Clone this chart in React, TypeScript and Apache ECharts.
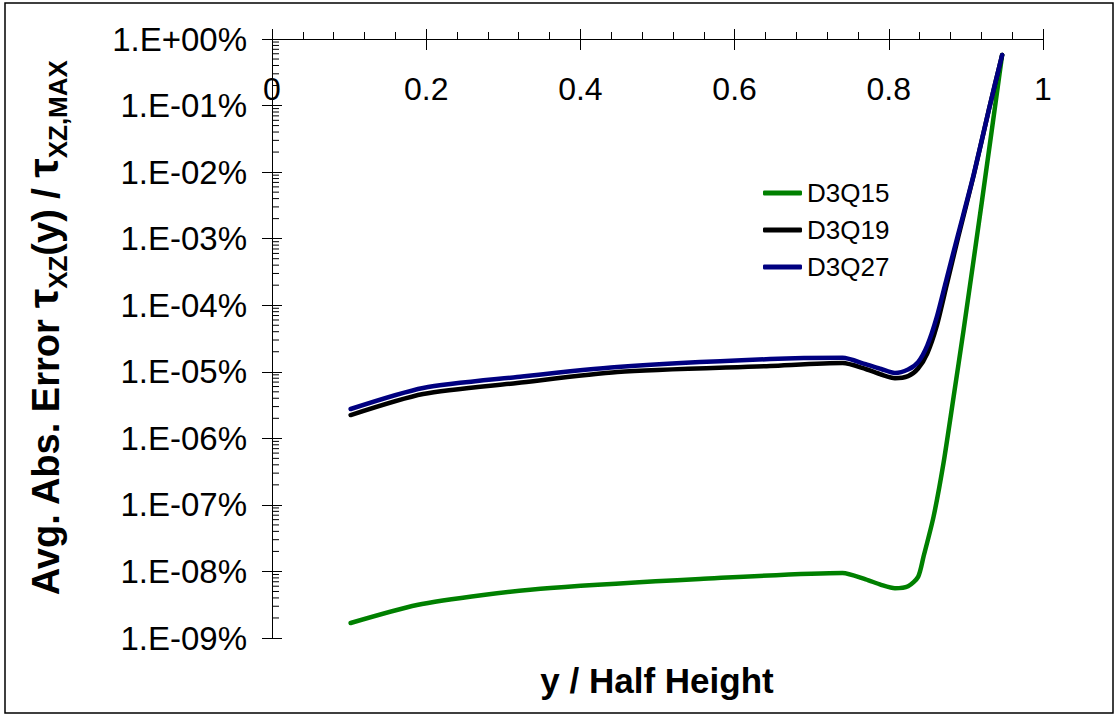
import React, { useEffect, useRef } from 'react';
import * as echarts from 'echarts';

const FONT = '"Liberation Sans", Arial, Helvetica, sans-serif';

// Series names
const seriesNames = ['D3Q15', 'D3Q19', 'D3Q27'];
const seriesColors = ['#008000', '#000000', '#000080'];

// D3Q15 (green): y / Half Height vs Avg. Abs. Error [%]
const xD3Q15 = [0.102, 0.188, 0.274, 0.361, 0.555, 0.74, 0.77, 0.79, 0.808, 0.825, 0.838, 0.845, 0.858, 0.871, 0.884, 0.897, 0.921, 0.947];
const yD3Q15 = [1.68e-9, 3.13e-9, 4.43e-9, 5.65e-9, 7.7e-9, 9.5e-9, 7.6e-9, 6.3e-9, 5.6e-9, 6.0e-9, 8.3e-9, 1.66e-8, 6.6e-8, 4.27e-7, 4.17e-6, 4.25e-5, 3.8e-3, 0.575];

// D3Q19 (black)
const xD3Q19 = [0.102, 0.196, 0.318, 0.448, 0.646, 0.74, 0.77, 0.79, 0.808, 0.825, 0.838, 0.85, 0.862, 0.875, 0.89, 0.91, 0.93, 0.947];
const yD3Q19 = [2.24e-6, 4.64e-6, 6.79e-6, 9.93e-6, 1.22e-5, 1.35e-5, 1.1e-5, 9.1e-6, 8.0e-6, 8.6e-6, 1.12e-5, 1.9e-5, 4.8e-5, 2.0e-4, 1.05e-3, 8.8e-3, 8.9e-2, 0.575];

// D3Q27 (navy)
const xD3Q27 = [0.102, 0.196, 0.318, 0.448, 0.646, 0.74, 0.77, 0.79, 0.808, 0.825, 0.838, 0.85, 0.862, 0.875, 0.89, 0.91, 0.93, 0.947];
const yD3Q27 = [2.76e-6, 5.71e-6, 8.35e-6, 1.18e-5, 1.55e-5, 1.62e-5, 1.3e-5, 1.1e-5, 9.6e-6, 1.08e-5, 1.4e-5, 2.5e-5, 6.5e-5, 2.5e-4, 1.17e-3, 9.1e-3, 8.9e-2, 0.575];

// Axis ranges / ticks
const xMin = 0;
const xMax = 1;
const xInterval = 0.2;
const yDecadeExponents = [-9, -8, -7, -6, -5, -4, -3, -2, -1, 0];
const minorMantissas = [2, 3, 4, 5, 6, 7, 8, 9];

const xTitle = 'y / Half Height';

export default function App() {
  const ref = useRef<HTMLDivElement>(null);

  useEffect(() => {
    if (!ref.current) return;
    const chart = echarts.init(ref.current, null, { renderer: 'svg' });

    const pair = (xs: number[], ys: number[]) => xs.map((x, i) => [x, ys[i]]);
    const minorTicks: number[][] = [];
    yDecadeExponents.slice(0, -1).forEach((e) => {
      minorMantissas.forEach((m) => minorTicks.push([0, m * Math.pow(10, e)]));
    });
    const fmtY = (v: number) => {
      const e = Math.round(Math.log10(v));
      const s = e < 0 ? '-' : '+';
      return '1.E' + s + String(Math.abs(e)).padStart(2, '0') + '%';
    };
    const yMin = Math.pow(10, yDecadeExponents[0]);
    const yMax = Math.pow(10, yDecadeExponents[yDecadeExponents.length - 1]);

    const xs = [xD3Q15, xD3Q19, xD3Q27];
    const ys = [yD3Q15, yD3Q19, yD3Q27];

    chart.setOption({
      animation: false,
      backgroundColor: '#ffffff',
      grid: { left: 272, right: 75, top: 39, bottom: 79, outerBoundsMode: 'none', containLabel: false },
      legend: {
        data: seriesNames.map((n) => ({ name: n, icon: 'roundRect' })),
        orient: 'vertical',
        left: 758,
        top: 175,
        itemWidth: 39,
        itemHeight: 5,
        itemGap: 11,
        textStyle: { fontSize: 26, color: '#000', fontFamily: FONT },
      },
      xAxis: [
        {
          type: 'value',
          position: 'top',
          min: xMin,
          max: xMax,
          interval: xInterval,
          axisLine: { show: true, onZero: false, lineStyle: { color: '#000', width: 1 } },
          axisTick: { show: true, inside: false, length: 10, lineStyle: { color: '#000', width: 1 } },
          minorTick: { show: true, splitNumber: 5, length: 7, lineStyle: { color: '#000', width: 1 } },
          splitLine: { show: false },
          minorSplitLine: { show: false },
          axisLabel: {
            show: true,
            inside: true,
            margin: 34,
            color: '#000',
            fontSize: 32,
            fontFamily: FONT,
            showMinLabel: true,
            showMaxLabel: true,
          },
        },
        {
          type: 'value',
          position: 'top',
          min: xMin,
          max: xMax,
          interval: xInterval,
          axisLine: { show: false, onZero: false },
          axisTick: { show: true, inside: true, length: 11, lineStyle: { color: '#000', width: 1 } },
          axisLabel: { show: false },
          splitLine: { show: false },
        },
      ],
      yAxis: [
        {
          type: 'log',
          logBase: 10,
          position: 'left',
          min: yMin,
          max: yMax,
          splitNumber: 9,
          axisLine: { show: true, onZero: false, lineStyle: { color: '#000', width: 1 } },
          axisTick: { show: true, inside: false, length: 10, lineStyle: { color: '#000', width: 1 } },
          splitLine: { show: false },
          axisLabel: {
            show: true,
            margin: 25,
            color: '#000',
            fontSize: 33,
            fontFamily: FONT,
            formatter: fmtY,
            showMinLabel: true,
            showMaxLabel: true,
          },
        },
        {
          type: 'log',
          logBase: 10,
          position: 'left',
          min: yMin,
          max: yMax,
          splitNumber: 9,
          axisLine: { show: false, onZero: false },
          axisTick: { show: true, inside: true, length: 10, lineStyle: { color: '#000', width: 1 } },
          axisLabel: { show: false },
          splitLine: { show: false },
        },
      ],
      series: [
        ...seriesNames.map((name, i) => ({
          name,
          type: 'line',
          xAxisIndex: 0,
          yAxisIndex: 0,
          data: pair(xs[i], ys[i]),
          symbol: 'none',
          showSymbol: false,
          smooth: 0.25,
          color: seriesColors[i],
          itemStyle: { color: seriesColors[i] },
          lineStyle: { color: seriesColors[i], width: 4.5, cap: 'round', join: 'round' },
          z: 3 + i,
        })),
        {
          name: 'minorTicks',
          type: 'custom',
          xAxisIndex: 0,
          yAxisIndex: 0,
          silent: true,
          clip: false,
          data: minorTicks,
          renderItem: (_p: any, api: any) => {
            const pt = api.coord([api.value(0), api.value(1)]);
            return {
              type: 'line',
              shape: { x1: pt[0], y1: pt[1], x2: pt[0] + 7, y2: pt[1] },
              style: { stroke: '#000', lineWidth: 1 },
            };
          },
          z: 2,
        },
      ],
      graphic: [
        {
          type: 'rect',
          shape: { x: 5, y: 3, width: 1108, height: 710 },
          style: { fill: 'none', stroke: '#000', lineWidth: 1.5 },
          silent: true,
          z: 0,
        },
        {
          type: 'text',
          x: 657,
          y: 680,
          style: {
            text: xTitle,
            fontSize: 35,
            fontWeight: 'bold',
            fontFamily: FONT,
            fill: '#000',
            align: 'center',
            verticalAlign: 'middle',
          },
        },
        {
          type: 'text',
          x: 46,
          y: 328,
          rotation: Math.PI / 2,
          style: {
            text: '{n|Avg. Abs. Error }{t|τ}{s|XZ}{n|(y) / }{t|τ}{s|XZ,MAX}',
            fontFamily: FONT,
            fill: '#000',
            align: 'center',
            verticalAlign: 'middle',
            rich: {
              n: { fontSize: 38, fontWeight: 'bold', fontFamily: FONT, fill: '#000', verticalAlign: 'bottom', padding: [0, 0, 6, 0] },
              t: { fontSize: 43, fontWeight: 'bold', fontFamily: FONT, fill: '#000', verticalAlign: 'bottom', padding: [0, 0, 6, 0] },
              s: { fontSize: 26, fontWeight: 'bold', fontFamily: FONT, fill: '#000', verticalAlign: 'bottom' },
            },
          },
        },
      ],
    });

    return () => chart.dispose();
  }, []);

  return (
    <div
      ref={ref}
      style={{ position: 'absolute', left: 0, top: 0, width: 1118, height: 717, background: '#fff' }}
    />
  );
}
